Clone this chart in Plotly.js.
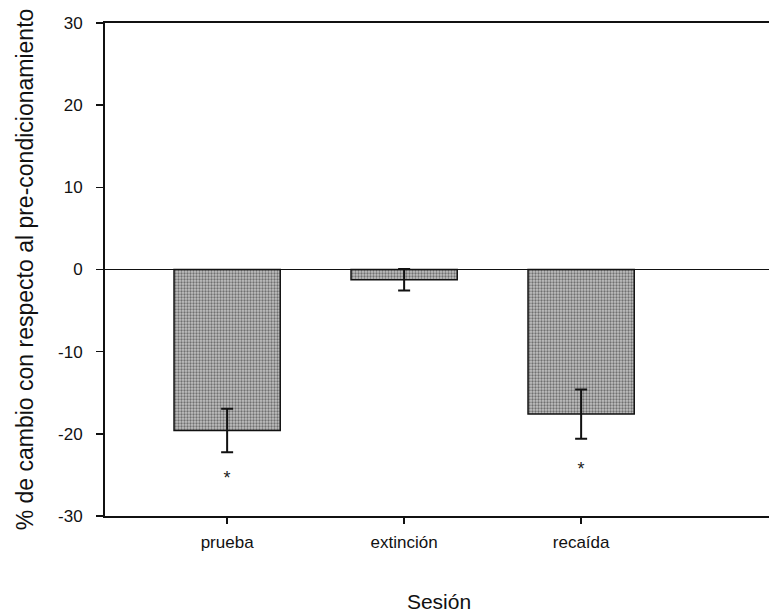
<!DOCTYPE html>
<html>
<head>
<meta charset="utf-8">
<script src="https://cdn.plot.ly/plotly-3.0.1.min.js"></script>
<style>html,body{margin:0;padding:0;background:#fff;overflow:hidden;}#chart{width:769px;height:614px;overflow:hidden;}</style>
</head>
<body>
<div id="chart"></div>
<script>
// Data
const sessions = ["prueba", "extinción", "recaída"];
const meanChange = [-19.6, -1.25, -17.6];
const semChange = [2.65, 1.3, 3.0];
const starSessions = ["prueba", "recaída"];
const starY = [-25.6, -24.5];
const starText = ["*", "*"];
const yTickVals = [-30, -20, -10, 0, 10, 20, 30];
const yTickText = ["-30", "-20", "-10", "0", "10", "20", "30"];

const font = "Arial, 'Liberation Sans', sans-serif";

const bars = {
  type: "bar",
  x: sessions,
  y: meanChange,
  width: 0.6,
  marker: {
    color: "#a9a9a9",
    line: {color: "#111", width: 1.5},
    pattern: {shape: ".", bgcolor: "#c2c2c2", fgcolor: "#707070", size: 3, solidity: 0.45}
  },
  error_y: {type: "data", array: semChange, visible: true, color: "#111", thickness: 2, width: 6},
  hoverinfo: "skip",
  showlegend: false
};

const stars = {
  type: "scatter",
  mode: "text",
  x: starSessions,
  y: starY,
  text: starText,
  textfont: {family: font, size: 18, color: "#222"},
  hoverinfo: "skip",
  showlegend: false
};

const layout = {
  width: 785,
  height: 614,
  margin: {l: 105, r: 12, t: 23, b: 98},
  paper_bgcolor: "#fff",
  plot_bgcolor: "#fff",
  font: {family: font, color: "#111"},
  showlegend: false,
  xaxis: {
    type: "category",
    range: [-0.69, 3.084],
    showline: true,
    linecolor: "#111",
    linewidth: 2,
    mirror: true,
    ticks: "outside",
    ticklen: 6,
    tickwidth: 1.5,
    tickcolor: "#111",
    ticklabelstandoff: 4,
    showgrid: false,
    zeroline: false,
    tickfont: {family: font, size: 17, color: "#111"},
    title: {text: "Sesión", font: {family: font, size: 21, color: "#111"}, standoff: 43}
  },
  yaxis: {
    range: [-30, 30],
    tickvals: yTickVals,
    ticktext: yTickText,
    showline: true,
    linecolor: "#111",
    linewidth: 2,
    mirror: false,
    ticks: "outside",
    ticklen: 7,
    tickwidth: 1.5,
    tickcolor: "#111",
    ticklabelstandoff: 10,
    showgrid: false,
    zeroline: true,
    zerolinecolor: "#111",
    zerolinewidth: 1.5,
    tickfont: {family: font, size: 17, color: "#111"},
    title: {text: "% de cambio con respecto al pre-condicionamiento", font: {family: font, size: 23, color: "#111"}, standoff: 18}
  }
};

Plotly.newPlot("chart", [bars, stars], layout, {displayModeBar: false, staticPlot: true});
</script>
</body>
</html>
